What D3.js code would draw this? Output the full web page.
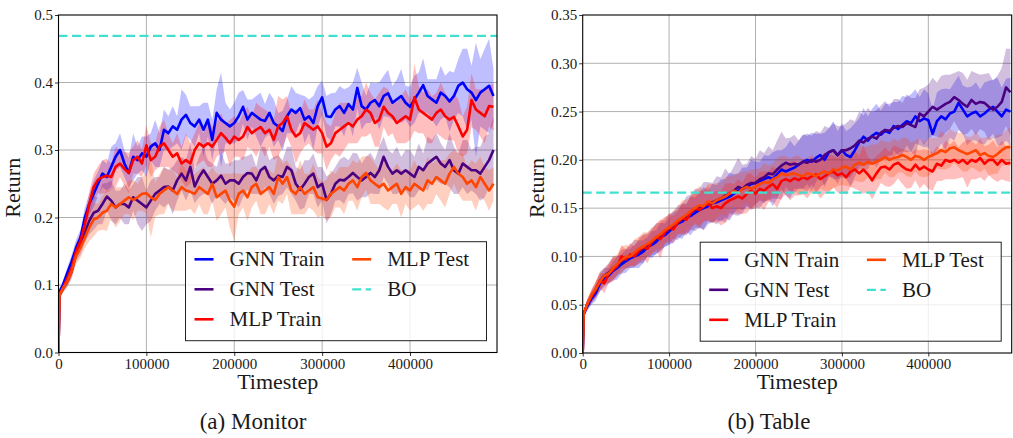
<!DOCTYPE html>
<html><head><meta charset="utf-8">
<script src="https://cdn.jsdelivr.net/npm/d3@7"></script>
<style>
body{margin:0;background:#fff;}
text{font-family:"Liberation Serif","Times New Roman",serif;fill:#1a1a1a;}
</style></head>
<body><svg id="chart" width="1013" height="438"></svg>
<script>
// ---------- data ----------
const timesteps = [0, 1000].concat(d3.range(5000, 500000, 5000));
const seriesNames = ["GNN Train", "GNN Test", "MLP Train", "MLP Test"];
const seriesColors = ["#0000ff", "#4b0082", "#ff0000", "#ff4500"];
const boLabel = "BO";
const boColor = "#40e0d0";
const xTickValues = [0, 100000, 200000, 300000, 400000];
const monitorYTicks = [0, 0.1, 0.2, 0.3, 0.4, 0.5];
const tableYTicks = [0, 0.05, 0.10, 0.15, 0.20, 0.25, 0.30, 0.35];
const panelCaptions = ["(a) Monitor", "(b) Table"];
const monitorBO = 0.469;
const tableBO = 0.166;

// Monitor panel
const monitorGnnTrain = [0, 0.09,
 0.10,0.118,0.135,0.155,0.17,0.20,0.22,0.235,0.25,0.265,
 0.26,0.275,0.29,0.30,0.28,0.266,0.29,0.285,0.295,0.29,
 0.305,0.31,0.30,0.33,0.325,0.335,0.33,0.345,0.352,0.34,
 0.335,0.345,0.33,0.345,0.315,0.355,0.345,0.34,0.335,0.34,
 0.35,0.364,0.345,0.355,0.35,0.345,0.343,0.355,0.34,0.335,
 0.328,0.35,0.36,0.355,0.362,0.345,0.35,0.34,0.365,0.378,
 0.35,0.349,0.36,0.365,0.355,0.368,0.36,0.392,0.365,0.36,
 0.37,0.374,0.365,0.38,0.384,0.37,0.375,0.38,0.37,0.364,
 0.375,0.385,0.396,0.38,0.375,0.37,0.385,0.38,0.372,0.38,
 0.395,0.40,0.39,0.385,0.374,0.385,0.39,0.395,0.38];
const monitorGnnTest = [0, 0.085,
 0.095,0.105,0.12,0.148,0.16,0.178,0.195,0.207,0.21,0.22,
 0.231,0.225,0.215,0.22,0.22,0.215,0.23,0.225,0.22,0.215,
 0.225,0.235,0.24,0.245,0.246,0.24,0.255,0.265,0.255,0.275,
 0.246,0.26,0.27,0.26,0.25,0.255,0.262,0.25,0.255,0.255,
 0.25,0.26,0.266,0.265,0.255,0.27,0.275,0.26,0.255,0.262,
 0.26,0.275,0.27,0.25,0.241,0.25,0.26,0.265,0.245,0.25,
 0.226,0.235,0.25,0.256,0.255,0.26,0.266,0.26,0.255,0.26,
 0.266,0.26,0.27,0.29,0.275,0.265,0.27,0.265,0.27,0.265,
 0.26,0.275,0.27,0.28,0.285,0.29,0.28,0.275,0.285,0.27,
 0.265,0.28,0.275,0.27,0.27,0.265,0.275,0.285,0.30];
const monitorMlpTrain = [0, 0.085,
 0.095,0.11,0.125,0.15,0.165,0.19,0.22,0.245,0.256,0.26,
 0.262,0.26,0.275,0.28,0.272,0.266,0.285,0.29,0.28,0.307,
 0.285,0.29,0.305,0.31,0.30,0.29,0.295,0.28,0.285,0.28,
 0.30,0.31,0.305,0.31,0.305,0.315,0.325,0.318,0.31,0.32,
 0.315,0.32,0.334,0.325,0.33,0.334,0.325,0.33,0.315,0.335,
 0.34,0.35,0.33,0.32,0.325,0.34,0.335,0.33,0.335,0.325,
 0.305,0.31,0.325,0.33,0.335,0.34,0.335,0.345,0.35,0.36,
 0.355,0.34,0.345,0.364,0.355,0.35,0.34,0.345,0.35,0.345,
 0.378,0.36,0.355,0.35,0.345,0.355,0.36,0.35,0.345,0.349,
 0.335,0.32,0.33,0.374,0.36,0.355,0.35,0.365,0.364];
const monitorMlpTest = [0, 0.085,
 0.095,0.105,0.12,0.143,0.155,0.17,0.185,0.197,0.20,0.207,
 0.21,0.22,0.215,0.22,0.225,0.23,0.226,0.23,0.235,0.236,
 0.23,0.226,0.235,0.24,0.245,0.24,0.235,0.245,0.24,0.238,
 0.235,0.245,0.24,0.235,0.25,0.23,0.235,0.24,0.225,0.216,
 0.235,0.24,0.23,0.245,0.25,0.235,0.24,0.245,0.235,0.26,
 0.25,0.26,0.24,0.235,0.245,0.235,0.24,0.245,0.23,0.228,
 0.226,0.235,0.24,0.245,0.24,0.25,0.255,0.245,0.26,0.266,
 0.255,0.25,0.245,0.25,0.24,0.245,0.25,0.235,0.245,0.24,
 0.25,0.245,0.24,0.255,0.25,0.26,0.255,0.25,0.265,0.275,
 0.265,0.26,0.25,0.255,0.245,0.26,0.25,0.24,0.25];
const monitorGnnTrainSpread = [0, 0.005,
 0.006,0.008,0.01,0.012,0.012,0.015,0.015,0.02,0.018,0.02,
 0.02,0.03,0.02,0.025,0.02,0.022,0.035,0.02,0.025,0.03,
 0.02,0.035,0.025,0.03,0.025,0.03,0.02,0.045,0.03,0.025,
 0.03,0.02,0.04,0.025,0.03,0.035,0.07,0.03,0.025,0.03,
 0.035,0.025,0.03,0.02,0.03,0.04,0.025,0.03,0.035,0.02,
 0.03,0.025,0.035,0.03,0.02,0.035,0.025,0.04,0.03,0.025,
 0.03,0.035,0.025,0.03,0.035,0.025,0.04,0.03,0.035,0.02,
 0.03,0.025,0.035,0.03,0.035,0.025,0.03,0.04,0.025,0.03,
 0.035,0.03,0.04,0.025,0.03,0.035,0.04,0.03,0.045,0.035,
 0.04,0.05,0.06,0.04,0.085,0.05,0.06,0.07,0.04];
const monitorGnnTestSpread = [0, 0.005,
 0.006,0.008,0.01,0.012,0.015,0.015,0.02,0.025,0.02,0.03,
 0.02,0.03,0.025,0.02,0.03,0.025,0.02,0.035,0.04,0.025,
 0.03,0.025,0.02,0.03,0.025,0.035,0.03,0.025,0.03,0.035,
 0.025,0.03,0.035,0.025,0.03,0.02,0.035,0.03,0.025,0.03,
 0.035,0.03,0.025,0.03,0.02,0.035,0.03,0.025,0.035,0.03,
 0.025,0.03,0.035,0.025,0.03,0.035,0.025,0.03,0.03,0.025,
 0.035,0.03,0.025,0.03,0.035,0.025,0.03,0.035,0.025,0.03,
 0.03,0.025,0.035,0.03,0.025,0.03,0.035,0.025,0.03,0.035,
 0.03,0.035,0.025,0.04,0.03,0.035,0.03,0.025,0.04,0.035,
 0.03,0.035,0.04,0.03,0.035,0.04,0.045,0.04,0.05];
const monitorMlpTrainSpread = [0, 0.005,
 0.006,0.008,0.01,0.012,0.012,0.015,0.018,0.02,0.02,0.025,
 0.025,0.02,0.03,0.02,0.025,0.03,0.02,0.025,0.02,0.03,
 0.025,0.02,0.03,0.035,0.025,0.02,0.03,0.025,0.04,0.03,
 0.025,0.03,0.02,0.035,0.03,0.025,0.03,0.02,0.035,0.03,
 0.025,0.035,0.03,0.025,0.04,0.03,0.035,0.025,0.03,0.045,
 0.035,0.03,0.025,0.04,0.03,0.035,0.025,0.03,0.04,0.03,
 0.035,0.025,0.03,0.04,0.035,0.03,0.025,0.035,0.03,0.04,
 0.03,0.035,0.04,0.03,0.035,0.025,0.03,0.035,0.04,0.03,
 0.05,0.035,0.03,0.04,0.035,0.03,0.04,0.035,0.03,0.035,
 0.04,0.03,0.035,0.04,0.03,0.035,0.04,0.03,0.035];
const monitorMlpTestSpread = [0, 0.005,
 0.006,0.008,0.01,0.012,0.015,0.015,0.02,0.025,0.02,0.025,
 0.03,0.02,0.03,0.025,0.02,0.025,0.03,0.02,0.025,0.03,
 0.06,0.025,0.03,0.035,0.025,0.03,0.025,0.035,0.03,0.025,
 0.03,0.025,0.035,0.03,0.025,0.035,0.03,0.025,0.04,0.05,
 0.03,0.025,0.035,0.03,0.025,0.03,0.035,0.025,0.03,0.035,
 0.03,0.025,0.035,0.03,0.04,0.03,0.025,0.035,0.03,0.025,
 0.03,0.035,0.025,0.03,0.035,0.025,0.03,0.035,0.03,0.025,
 0.035,0.03,0.025,0.035,0.03,0.025,0.03,0.035,0.025,0.03,
 0.035,0.025,0.03,0.035,0.03,0.025,0.03,0.035,0.03,0.025,
 0.03,0.035,0.025,0.03,0.035,0.03,0.025,0.03,0.025];

// Table panel
const tableGnnTrain = [0, 0.04,
 0.048,0.056,0.062,0.072,0.078,0.08,0.085,0.088,0.092,0.095,
 0.098,0.10,0.102,0.105,0.11,0.112,0.115,0.12,0.122,0.126,
 0.13,0.134,0.136,0.14,0.142,0.145,0.148,0.15,0.152,0.155,
 0.156,0.158,0.16,0.162,0.165,0.168,0.17,0.172,0.175,0.176,
 0.178,0.18,0.182,0.18,0.185,0.19,0.188,0.19,0.192,0.195,
 0.198,0.2,0.198,0.202,0.205,0.2,0.208,0.21,0.205,0.21,
 0.205,0.203,0.21,0.218,0.224,0.22,0.225,0.228,0.226,0.23,
 0.228,0.235,0.232,0.236,0.24,0.238,0.245,0.24,0.243,0.241,
 0.227,0.24,0.245,0.242,0.248,0.25,0.259,0.252,0.245,0.248,
 0.25,0.245,0.248,0.252,0.255,0.25,0.245,0.252,0.25];
const tableGnnTest = [0, 0.04,
 0.05,0.058,0.065,0.074,0.08,0.083,0.088,0.09,0.095,0.098,
 0.1,0.103,0.105,0.108,0.112,0.115,0.118,0.121,0.125,0.128,
 0.132,0.135,0.138,0.142,0.146,0.148,0.15,0.152,0.155,0.156,
 0.158,0.16,0.163,0.165,0.168,0.172,0.17,0.174,0.176,0.176,
 0.18,0.182,0.186,0.185,0.19,0.194,0.197,0.195,0.196,0.195,
 0.198,0.197,0.2,0.198,0.2,0.205,0.208,0.21,0.205,0.21,
 0.21,0.212,0.215,0.22,0.218,0.222,0.224,0.222,0.228,0.231,
 0.23,0.233,0.235,0.234,0.238,0.236,0.234,0.248,0.245,0.25,
 0.255,0.252,0.255,0.258,0.26,0.265,0.262,0.258,0.255,0.262,
 0.258,0.26,0.259,0.255,0.252,0.255,0.26,0.275,0.27];
const tableMlpTrain = [0, 0.04,
 0.05,0.058,0.066,0.075,0.072,0.082,0.086,0.09,0.1,0.097,
 0.102,0.1,0.106,0.11,0.108,0.115,0.12,0.118,0.125,0.13,
 0.128,0.135,0.14,0.138,0.145,0.15,0.148,0.152,0.155,0.15,
 0.152,0.15,0.155,0.158,0.16,0.162,0.16,0.165,0.168,0.165,
 0.17,0.168,0.172,0.175,0.17,0.178,0.18,0.178,0.181,0.179,
 0.182,0.18,0.183,0.185,0.18,0.183,0.186,0.188,0.184,0.186,
 0.182,0.188,0.19,0.186,0.19,0.185,0.179,0.186,0.192,0.193,
 0.19,0.195,0.197,0.193,0.19,0.189,0.195,0.19,0.193,0.19,
 0.188,0.196,0.194,0.2,0.198,0.2,0.197,0.2,0.196,0.2,
 0.198,0.202,0.196,0.2,0.2,0.195,0.2,0.196,0.197];
const tableMlpTest = [0, 0.04,
 0.05,0.06,0.066,0.074,0.08,0.082,0.088,0.092,0.096,0.1,
 0.1,0.104,0.108,0.11,0.113,0.116,0.12,0.123,0.127,0.13,
 0.133,0.137,0.14,0.143,0.147,0.15,0.153,0.152,0.157,0.155,
 0.158,0.16,0.162,0.165,0.168,0.166,0.17,0.172,0.17,0.172,
 0.175,0.177,0.176,0.18,0.182,0.186,0.184,0.185,0.186,0.184,
 0.183,0.186,0.185,0.183,0.186,0.188,0.186,0.19,0.189,0.192,
 0.193,0.19,0.195,0.197,0.195,0.198,0.196,0.198,0.2,0.203,
 0.2,0.202,0.203,0.205,0.203,0.2,0.204,0.203,0.2,0.203,
 0.205,0.207,0.21,0.208,0.212,0.213,0.21,0.208,0.206,0.208,
 0.21,0.205,0.207,0.204,0.203,0.206,0.21,0.213,0.213];
const tableGnnTrainSpread = [0, 0.003,
 0.005,0.006,0.008,0.008,0.01,0.008,0.01,0.012,0.01,0.012,
 0.01,0.012,0.014,0.012,0.01,0.014,0.012,0.015,0.012,0.014,
 0.016,0.014,0.018,0.015,0.02,0.016,0.018,0.022,0.016,0.02,
 0.018,0.022,0.02,0.025,0.02,0.018,0.022,0.02,0.025,0.022,
 0.02,0.025,0.022,0.028,0.025,0.02,0.025,0.03,0.022,0.025,
 0.028,0.025,0.03,0.025,0.022,0.028,0.025,0.03,0.025,0.028,
 0.025,0.03,0.028,0.025,0.03,0.025,0.028,0.03,0.025,0.028,
 0.03,0.025,0.028,0.03,0.025,0.03,0.028,0.025,0.03,0.028,
 0.025,0.03,0.028,0.032,0.025,0.03,0.028,0.025,0.03,0.028,
 0.03,0.028,0.032,0.03,0.028,0.035,0.03,0.032,0.035];
const tableGnnTestSpread = [0, 0.003,
 0.005,0.007,0.008,0.01,0.008,0.01,0.012,0.01,0.012,0.01,
 0.012,0.014,0.012,0.015,0.012,0.014,0.016,0.014,0.015,0.016,
 0.014,0.018,0.016,0.02,0.018,0.022,0.02,0.025,0.022,0.02,
 0.025,0.022,0.028,0.02,0.025,0.03,0.025,0.022,0.028,0.025,
 0.03,0.025,0.028,0.025,0.03,0.035,0.025,0.028,0.03,0.025,
 0.028,0.03,0.025,0.032,0.028,0.03,0.025,0.028,0.03,0.025,
 0.028,0.03,0.025,0.03,0.028,0.032,0.025,0.03,0.028,0.03,
 0.025,0.03,0.028,0.025,0.03,0.028,0.03,0.025,0.03,0.028,
 0.03,0.028,0.032,0.03,0.028,0.025,0.03,0.032,0.028,0.03,
 0.032,0.028,0.03,0.035,0.03,0.032,0.035,0.04,0.045];
const tableMlpTrainSpread = [0, 0.003,
 0.005,0.006,0.008,0.008,0.01,0.01,0.012,0.01,0.012,0.01,
 0.012,0.01,0.014,0.012,0.015,0.012,0.014,0.02,0.012,0.015,
 0.014,0.012,0.016,0.015,0.018,0.015,0.02,0.016,0.018,0.015,
 0.016,0.018,0.02,0.018,0.015,0.018,0.016,0.02,0.018,0.016,
 0.018,0.02,0.016,0.018,0.02,0.018,0.016,0.02,0.018,0.016,
 0.018,0.02,0.016,0.018,0.02,0.018,0.02,0.016,0.018,0.02,
 0.018,0.016,0.02,0.018,0.025,0.018,0.02,0.018,0.016,0.02,
 0.018,0.02,0.016,0.018,0.02,0.018,0.016,0.02,0.018,0.02,
 0.02,0.018,0.016,0.02,0.018,0.02,0.016,0.018,0.025,0.02,
 0.018,0.02,0.018,0.016,0.02,0.018,0.02,0.018,0.02];
const tableMlpTestSpread = [0, 0.003,
 0.005,0.006,0.008,0.01,0.008,0.01,0.012,0.01,0.014,0.012,
 0.01,0.014,0.012,0.015,0.012,0.014,0.012,0.015,0.014,0.012,
 0.015,0.014,0.018,0.016,0.015,0.018,0.02,0.016,0.018,0.02,
 0.018,0.016,0.02,0.018,0.016,0.02,0.018,0.016,0.02,0.018,
 0.016,0.02,0.018,0.016,0.02,0.018,0.02,0.016,0.018,0.02,
 0.018,0.016,0.02,0.018,0.016,0.02,0.018,0.02,0.016,0.018,
 0.02,0.018,0.016,0.02,0.018,0.016,0.02,0.018,0.02,0.016,
 0.018,0.02,0.016,0.018,0.02,0.018,0.016,0.02,0.018,0.02,
 0.018,0.016,0.02,0.018,0.02,0.016,0.018,0.02,0.018,0.016,
 0.02,0.018,0.016,0.02,0.018,0.02,0.016,0.018,0.02];

// ---------- drawing ----------
const svg = d3.select("#chart");
svg.append("rect").attr("width",1013).attr("height",438).attr("fill","#fff");

const panels = [
  {left:58.5, right:497, top:15, bottom:352.5, xMax:499000, yMax:0.5, yTicks:monitorYTicks, fmt:d3.format(".1f"),
   means:[monitorGnnTrain, monitorGnnTest, monitorMlpTrain, monitorMlpTest],
   spreads:[monitorGnnTrainSpread, monitorGnnTestSpread, monitorMlpTrainSpread, monitorMlpTestSpread],
   bo:monitorBO, caption:panelCaptions[0]},
  {left:582.7, right:1011.7, top:15, bottom:353, xMax:496500, yMax:0.35, yTicks:tableYTicks, fmt:d3.format(".2f"),
   means:[tableGnnTrain, tableGnnTest, tableMlpTrain, tableMlpTest],
   spreads:[tableGnnTrainSpread, tableGnnTestSpread, tableMlpTrainSpread, tableMlpTestSpread],
   bo:tableBO, caption:panelCaptions[1]}
];

panels.forEach((p, pi) => {
  const x = d3.scaleLinear().domain([0, p.xMax]).range([p.left, p.right]);
  const y = d3.scaleLinear().domain([0, p.yMax]).range([p.bottom, p.top]);
  const g = svg.append("g");
  const clipId = "clip" + pi;
  svg.append("clipPath").attr("id", clipId).append("rect")
    .attr("x", p.left).attr("y", p.top).attr("width", p.right - p.left).attr("height", p.bottom - p.top);

  // grid
  const grid = g.append("g");
  grid.selectAll("line.vx").data(xTickValues.filter(v => v > 0)).enter().append("line")
    .attr("x1", d => x(d)).attr("x2", d => x(d)).attr("y1", p.top).attr("y2", p.bottom)
    .attr("stroke", "#b0b0b0").attr("stroke-width", 1);
  grid.selectAll("line.hy").data(p.yTicks.filter(v => v > 0 && v < p.yMax - 1e-9)).enter().append("line")
    .attr("y1", d => y(d)).attr("y2", d => y(d)).attr("x1", p.left).attr("x2", p.right)
    .attr("stroke", "#b0b0b0").attr("stroke-width", 1);

  const plot = g.append("g").attr("clip-path", `url(#${clipId})`);
  p.means.forEach((vals, si) => {
    const spr = p.spreads[si];
    const n = Math.min(vals.length, spr.length, timesteps.length);
    const pts = d3.range(n).map(i => ({t: timesteps[i], m: vals[i], s: spr[i]}));
    const area = d3.area().x(d => x(d.t)).y0(d => y(Math.max(0, d.m - d.s))).y1(d => y(d.m + d.s));
    plot.append("path").datum(pts).attr("d", area)
      .attr("fill", seriesColors[si]).attr("fill-opacity", 0.25).attr("stroke", "none");
  });
  p.means.forEach((vals, si) => {
    const n = Math.min(vals.length, timesteps.length);
    const pts = d3.range(n).map(i => ({t: timesteps[i], m: vals[i]}));
    const line = d3.line().x(d => x(d.t)).y(d => y(d.m));
    plot.append("path").datum(pts).attr("d", line)
      .attr("fill", "none").attr("stroke", seriesColors[si]).attr("stroke-width", 2.6)
      .attr("stroke-linejoin", "round");
  });
  // BO line
  plot.append("line").attr("x1", p.left).attr("x2", p.right).attr("y1", y(p.bo)).attr("y2", y(p.bo))
    .attr("stroke", boColor).attr("stroke-width", 2.2).attr("stroke-dasharray", "9,4.5");

  // axes
  const xAxis = d3.axisBottom(x).tickValues(xTickValues).tickFormat(d3.format("d")).tickSize(3.5).tickPadding(2);
  const gx = g.append("g").attr("transform", `translate(0,${p.bottom})`).call(xAxis);
  const yAxis = d3.axisLeft(y).tickValues(p.yTicks).tickFormat(p.fmt).tickSize(3.5).tickPadding(2);
  const gy = g.append("g").attr("transform", `translate(${p.left},0)`).call(yAxis);
  [gx, gy].forEach(a => {
    a.select(".domain").remove();
    a.selectAll("line").attr("stroke", "#000").attr("stroke-width", 0.8);
    a.selectAll("text").style("font-family", '"Liberation Serif", serif').style("font-size", "15px").attr("fill", "#262626");
  });
  // frame
  g.append("rect").attr("x", p.left).attr("y", p.top).attr("width", p.right - p.left).attr("height", p.bottom - p.top)
    .attr("fill", "none").attr("stroke", "#000").attr("stroke-width", 1.1);

  // axis labels
  g.append("text").attr("x", (p.left + p.right) / 2).attr("y", p.bottom + 36).attr("text-anchor", "middle")
    .style("font-size", "22px").text("Timestep");
  g.append("text").attr("transform", `translate(${p.left - 39},${(p.top + p.bottom) / 2 + 4}) rotate(-90)`)
    .attr("text-anchor", "middle").style("font-size", "22px").text("Return");
  g.append("text").attr("x", pi === 0 ? 253 : 769).attr("y", 429).attr("text-anchor", "middle")
    .style("font-size", "23px").text(p.caption);

  // legend
  const lw = 301, lh = 99;
  const lx = p.right - 10.5 - lw, ly = p.bottom - 11.8 - lh;
  const lg = g.append("g").attr("transform", `translate(${lx},${ly})`);
  lg.append("rect").attr("width", lw).attr("height", lh).attr("fill", "#fff").attr("fill-opacity", 0.8)
    .attr("stroke", "#222").attr("stroke-width", 1);
  const entries = seriesNames.map((n, i) => ({name: n, color: seriesColors[i], dash: null}))
    .concat([{name: boLabel, color: boColor, dash: "9,4.5"}]);
  entries.forEach((e, i) => {
    const col = i < 3 ? 0 : 1, row = i < 3 ? i : i - 3;
    const ex = 9 + col * 157.7, ey = 17.6 + row * 30;
    lg.append("line").attr("x1", ex).attr("x2", ex + 19).attr("y1", ey).attr("y2", ey)
      .attr("stroke", e.color).attr("stroke-width", e.dash ? 2.2 : 2.6)
      .attr("stroke-dasharray", e.dash);
    lg.append("text").attr("x", ex + 35).attr("y", ey + 7).style("font-size", "21px").text(e.name);
  });
});
</script></body></html>
